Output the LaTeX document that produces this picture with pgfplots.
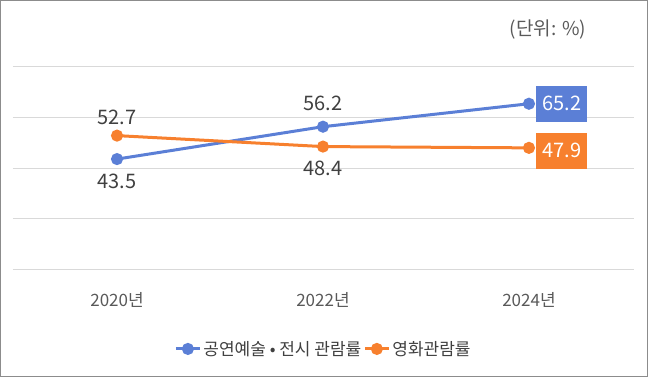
\documentclass[border=0pt]{standalone}
\usepackage{pgfplots}
\pgfplotsset{compat=1.18}
\usepackage{fontspec}
\setmainfont{Noto Sans CJK KR}
\definecolor{cblue}{HTML}{5B7FD6}
\definecolor{corange}{HTML}{F7802E}
\definecolor{tgray}{HTML}{595959}
\definecolor{lgray}{HTML}{404040}
\begin{document}
\begin{tikzpicture}[x=1pt,y=1pt]
\useasboundingbox (0,0) rectangle (650,377);
\draw[black!45, line width=1pt] (0.5,0.5) rectangle (647.5,376.5);
\node[font=\fontsize{19}{22}\selectfont, text=tgray] at (548,347) {(단위: \%)};
\begin{axis}[at={(13pt,107pt)}, anchor=south west, scale only axis,
  width=621pt, height=204pt,
  xmin=-0.505, xmax=2.51, ymin=0, ymax=80,
  ytick={0,20,...,80}, yticklabels={},
  ymajorgrids, grid style={draw=black!15, line width=1pt},
  axis line style={draw=none},
  xtick={0,1,2}, xticklabels={2020년,2022年,2024년},
  xticklabels={2020년,2022년,2024년},
  major tick length=0,
  xticklabel style={font=\fontsize{17}{19}\selectfont, text=tgray, yshift=-19pt},
  clip=false,
  legend style={at={(0.5,-0.387)}, anchor=center, draw=none, fill=none,
    font=\fontsize{17}{19}\selectfont, text=lgray, legend columns=2,
    /tikz/every even column/.append style={column sep=0pt},
    inner sep=0pt},
  legend image code/.code={\draw[mark repeat=2,mark phase=2,#1] plot coordinates {(0pt,0pt) (12pt,0pt) (24pt,0pt)};},
]
\addplot[cblue, line width=3pt, mark=*, mark size=4.5pt, mark options={solid}] coordinates {(0,43.5) (1,56.2) (2,65.2)};
\addlegendentry{공연예술 • 전시 관람률}
\addplot[corange, line width=3pt, mark=*, mark size=4.5pt, mark options={solid}] coordinates {(0,52.7) (1,48.4) (2,47.9)};
\addlegendentry{영화관람률}
\begin{scope}[every node/.style={font=\fontsize{20}{22}\selectfont, text=lgray}]
\node[yshift=18pt] at (axis cs:0,52.7) {52.7};
\node[yshift=-22pt] at (axis cs:0,43.5) {43.5};
\node[yshift=23pt] at (axis cs:1,56.2) {56.2};
\node[yshift=-22pt] at (axis cs:1,48.4) {48.4};
\end{scope}
\node[font=\fontsize{20}{22}\selectfont, text=white, fill=cblue, minimum width=51pt, minimum height=36pt, inner sep=0pt, xshift=33pt] at (axis cs:2,65.2) {65.2};
\node[font=\fontsize{20}{22}\selectfont, text=white, fill=corange, minimum width=51pt, minimum height=36pt, inner sep=0pt, xshift=33pt, yshift=-3pt] at (axis cs:2,47.9) {47.9};
\end{axis}
\end{tikzpicture}
\end{document}
